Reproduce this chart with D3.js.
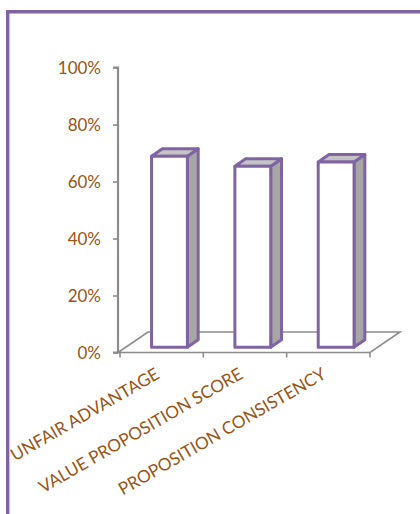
<!DOCTYPE html>
<html>
<head>
<meta charset="utf-8">
<script src="https://cdn.jsdelivr.net/npm/d3@7"></script>
<style>
html,body{margin:0;padding:0;background:#fff;}
svg{display:block;}
</style>
</head>
<body>
<svg id="chart" width="420" height="514"></svg>
<script>
const categories = ["UNFAIR ADVANTAGE", "VALUE PROPOSITION SCORE", "PROPOSITION CONSISTENCY"];
const values = [0.67, 0.635, 0.65];
const tickValues = [0, 0.2, 0.4, 0.6, 0.8, 1.0];
const tickLabels = ["0%", "20%", "40%", "60%", "80%", "100%"];

const svg = d3.select("#chart");
const labelColor = "#9a5414";
const axisColor = "#8c8c8c";
const purple = "#8064a2";

// outer border (extends beyond the view on right/bottom)
svg.append("rect").attr("x", 7.75).attr("y", 11.75).attr("width", 500).attr("height", 600)
  .attr("fill", "none").attr("stroke", purple).attr("stroke-width", 3.5);
svg.append("line").attr("x1", 9.8).attr("x2", 9.8).attr("y1", 14).attr("y2", 514)
  .attr("stroke", "#d9cfe6").attr("stroke-width", 0.8);

const y = d3.scaleLinear().domain([0, 1]).range([352.5, 67.5]);
const x = d3.scaleBand().domain(categories).range([120, 370]).paddingInner(0).paddingOuter(0);
const depth = [30, -20.5]; // floor depth vector

// floor
const x0 = 118, x1 = 370, yF = y(0);
const floorPts = [[x0, yF], [x1, yF], [x1 + depth[0], yF + depth[1]], [x0 + depth[0], yF + depth[1]]];
svg.append("polygon").attr("points", floorPts.map(p => p.join(",")).join(" "))
  .attr("fill", "none").attr("stroke", axisColor).attr("stroke-width", 1.6);

// vertical axis
const yAxis = d3.axisLeft(y).tickValues(tickValues).tickFormat((d, i) => tickLabels[i]).tickSize(5).tickPadding(12);
const gy = svg.append("g").attr("transform", `translate(${x0},0)`).call(yAxis);
gy.select(".domain").attr("stroke", axisColor).attr("stroke-width", 2.2).attr("d", `M-5,${y(1)}H0V${y(0)}H-5`);
gy.selectAll(".tick line").attr("stroke", axisColor).attr("stroke-width", 1.6);
gy.selectAll(".tick text").attr("fill", labelColor).attr("font-family", "Lato, 'Open Sans', sans-serif")
  .attr("font-size", 17).attr("dy", "0.36em");

// category ticks
const catTicks = [120].concat(categories.map(c => x(c) + x.bandwidth()));
svg.selectAll(".ctick").data(catTicks).join("line")
  .attr("x1", d => d).attr("x2", d => d).attr("y1", yF).attr("y2", yF + 5)
  .attr("stroke", axisColor).attr("stroke-width", 1.6);

// bars
const fFront = 0.26, fBack = 0.62;
const bw = x.bandwidth() * 0.43;
const bars = svg.selectAll(".bar").data(categories).join("g");
bars.each(function (c, i) {
  const g = d3.select(this);
  const cx = x(c) + x.bandwidth() / 2;
  const ox = depth[0] * fFront, oy = depth[1] * fFront;
  const dx = depth[0] * (fBack - fFront), dy = depth[1] * (fBack - fFront);
  const L = cx - bw / 2 + ox, R = cx + bw / 2 + ox;
  const B = y(0) + oy, T = y(values[i]) + oy;
  const st = { stroke: purple, "stroke-width": 3, "stroke-linejoin": "round" };
  const side = g.append("polygon").attr("points", [[R, T], [R + dx, T + dy], [R + dx, B + dy], [R, B]].map(p => p.join(",")).join(" "))
    .attr("fill", "#a6a6a6");
  const top = g.append("polygon").attr("points", [[L, T], [L + dx, T + dy], [R + dx, T + dy], [R, T]].map(p => p.join(",")).join(" "))
    .attr("fill", "#c4c4c4");
  const front = g.append("rect").attr("x", L).attr("y", T).attr("width", R - L).attr("height", B - T).attr("fill", "#fff");
  [side, top, front].forEach(s => Object.entries(st).forEach(([k, v]) => s.attr(k, v)));
});

// category labels
svg.selectAll(".clabel").data(categories).join("text")
  .attr("transform", d => `translate(${x(d) + x.bandwidth() / 2 - 1},${yF + 25}) rotate(-30)`)
  .attr("text-anchor", "end")
  .attr("fill", labelColor)
  .attr("font-family", "Lato, 'Open Sans', sans-serif")
  .attr("font-size", 17.2)
  .text(d => d);
</script>
</body>
</html>
